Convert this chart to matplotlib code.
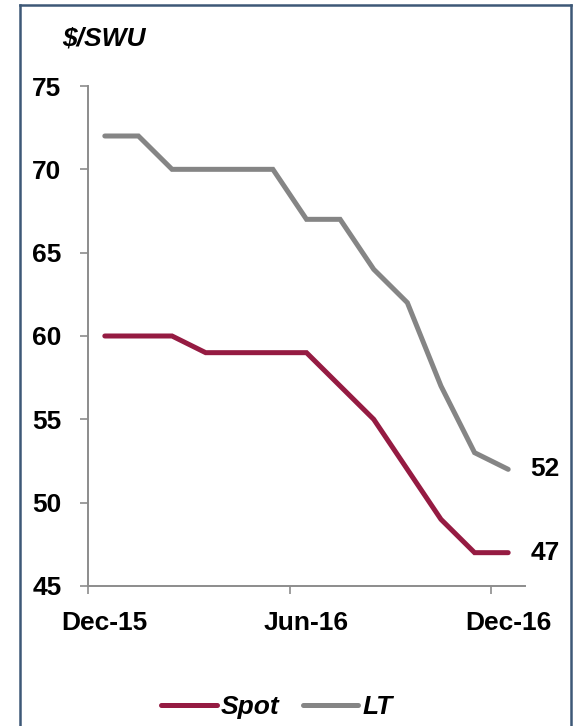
import matplotlib.pyplot as plt
import numpy as np
from matplotlib.lines import Line2D

months = ['Dec-15', 'Jan-16', 'Feb-16', 'Mar-16', 'Apr-16', 'May-16', 'Jun-16',
          'Jul-16', 'Aug-16', 'Sep-16', 'Oct-16', 'Nov-16', 'Dec-16']
spot = [60, 60, 60, 59, 59, 59, 59, 57, 55, 52, 49, 47, 47]
lt = [72, 72, 70, 70, 70, 70, 67, 67, 64, 62, 57, 53, 52]
shown_labels = ['Dec-15', 'Jun-16', 'Dec-16']

plt.rcParams['font.family'] = ['Liberation Sans', 'DejaVu Sans']
plt.rcParams['font.weight'] = 'bold'

spot_col = '#951B42'
lt_col = '#858585'
axis_col = '#8c8c8c'
fs = 19

fig = plt.figure(figsize=(5.76, 7.26), dpi=100)
ax = fig.add_axes([88 / 576, 1 - 586 / 726, (525 - 88) / 576, 500 / 726])

x = np.arange(len(months))
ax.plot(x, lt, color=lt_col, lw=3.6, solid_capstyle='round', solid_joinstyle='miter', label='LT')
ax.plot(x, spot, color=spot_col, lw=3.6, solid_capstyle='round', solid_joinstyle='miter', label='Spot')

ax.set_ylim(45, 75)
ax.set_yticks(range(45, 80, 5))
ax.set_xlim(-0.5, len(months) - 0.5)

# ticks sit between categories, labels on the categories
idx = [months.index(m) for m in shown_labels]
ax.set_xticks([i - 0.5 for i in idx])
ax.set_xticklabels([])
ax.set_xticks(idx, minor=True)
ax.set_xticklabels(shown_labels, minor=True)
ax.tick_params(axis='x', which='minor', length=0, pad=18, labelsize=fs)
ax.tick_params(axis='x', which='major', length=6, width=1.2, color=axis_col)
ax.tick_params(axis='y', length=6, width=1.2, color=axis_col, pad=13, labelsize=fs)

for s in ['top', 'right']:
    ax.spines[s].set_visible(False)
for s in ['left', 'bottom']:
    ax.spines[s].set_color(axis_col)
    ax.spines[s].set_linewidth(1.4)

ax.annotate(str(lt[-1]), (x[-1], lt[-1]), xytext=(16, 0), textcoords='offset points',
            va='center', ha='left', fontsize=fs, fontweight='bold')
ax.annotate(str(spot[-1]), (x[-1], spot[-1]), xytext=(16, 0), textcoords='offset points',
            va='center', ha='left', fontsize=fs, fontweight='bold')

fig.text(62 / 576, 1 - 38 / 726, '$/SWU', fontsize=fs, fontweight='bold', style='italic',
         va='center', ha='left')

handles = [Line2D([], [], color=spot_col, lw=3.6, solid_capstyle='round'),
           Line2D([], [], color=lt_col, lw=3.6, solid_capstyle='round')]
leg = fig.legend(handles, ['Spot', 'LT'], loc='center', bbox_to_anchor=(277 / 576, 1 - 707 / 726),
                 ncol=2, frameon=False, handlelength=2.1, handletextpad=0.15, columnspacing=0.9,
                 prop={'size': fs, 'weight': 'bold', 'style': 'italic'})

# outer frame (left, top, right)
frame_col = '#3d5877'
fx0, fx1, fy1 = 19.5 / 576, 571 / 576, 1 - 5 / 726
fig.add_artist(Line2D([fx0, fx0], [0, fy1], color=frame_col, lw=1.8))
fig.add_artist(Line2D([fx0, fx1], [fy1, fy1], color=frame_col, lw=1.8))
fig.add_artist(Line2D([fx1, fx1], [0, fy1], color=frame_col, lw=1.8))

fig.savefig('out.png', dpi=100)
